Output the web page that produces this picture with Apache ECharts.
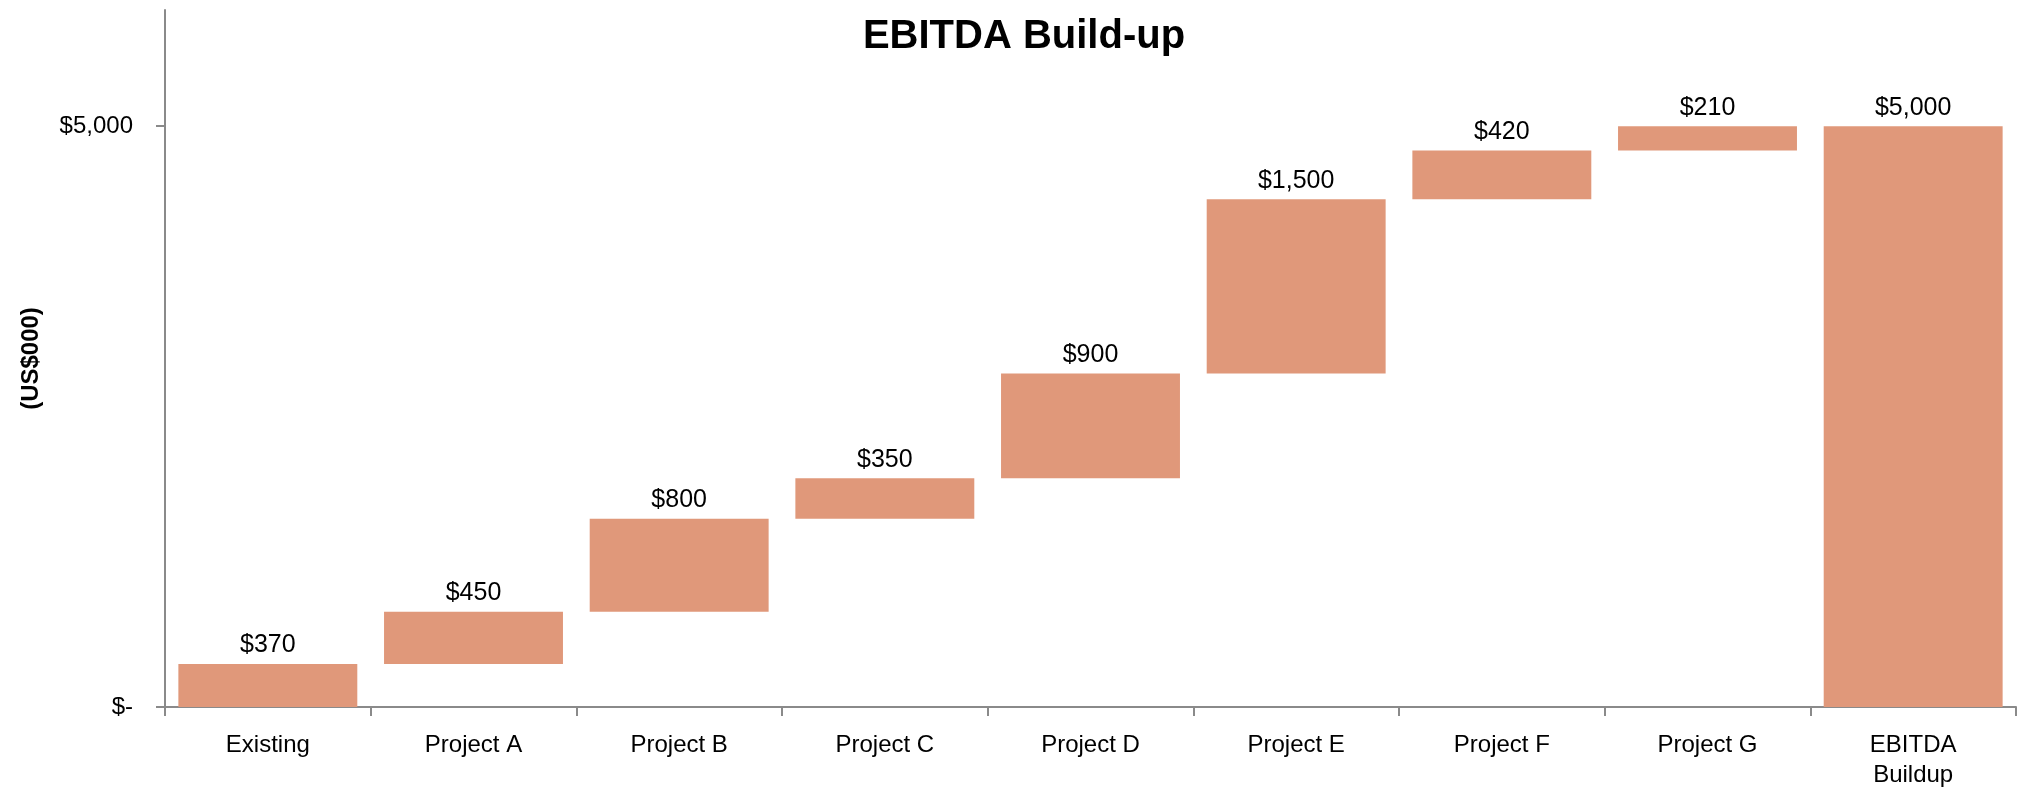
<!DOCTYPE html>
<html>
<head>
<meta charset="utf-8">
<title>EBITDA Build-up</title>
<script src="https://cdn.jsdelivr.net/npm/echarts@6/dist/echarts.min.js"></script>
<style>
  html, body { margin: 0; padding: 0; background: #fff; }
  #chart { width: 2026px; height: 788px; }
</style>
</head>
<body>
<div id="chart"></div>
<script>
// categories and values (US$000)
var categories = ['Existing', 'Project A', 'Project B', 'Project C', 'Project D',
                  'Project E', 'Project F', 'Project G', 'EBITDA\nBuildup'];
var increments = [370, 450, 800, 350, 900, 1500, 420, 210, 5000];
var yTickValues = [0, 5000];

// last column is the total, it starts from zero
var bases = [];
var running = 0;
for (var i = 0; i < increments.length; i++) {
    if (i == increments.length - 1) {
        bases.push(0);
    } else {
        bases.push(running);
        running += increments[i];
    }
}

function money(v) {
    if (v == 0) return '$-';
    return '$' + v.toLocaleString('en-US');
}

var font = 'Liberation Sans';
var axisGray = '#8a8a8a';

var chart = echarts.init(document.getElementById('chart'));
var option = {
    backgroundColor: '#fff',
    animation: false,
    textStyle: { fontFamily: font, color: '#000' },
    title: {
        text: 'EBITDA Build-up',
        left: 1019,
        textAlign: 'center',
        top: 12,
        textStyle: { fontFamily: font, fontSize: 40, fontWeight: 'bold', color: '#000' }
    },
    grid: { left: 165, right: 10, top: 10, bottom: 81, containLabel: false, outerBoundsMode: 'none' },
    xAxis: {
        type: 'category',
        data: categories,
        axisLine: { lineStyle: { color: axisGray, width: 2 } },
        axisTick: { show: true, length: 9, lineStyle: { color: axisGray, width: 2 } },
        axisLabel: {
            color: '#000', fontFamily: font, fontSize: 24,
            lineHeight: 30, margin: 23, interval: 0
        }
    },
    yAxis: {
        type: 'value',
        min: 0,
        max: 6000,
        interval: 5000,
        name: '(US$000)',
        nameLocation: 'middle',
        nameRotate: 90,
        nameGap: 122,
        nameTextStyle: { fontFamily: font, fontSize: 24, fontWeight: 'bold', color: '#000' },
        splitLine: { show: false },
        axisLine: { show: true, lineStyle: { color: axisGray, width: 2 } },
        axisTick: {
            show: true, length: 9, customValues: yTickValues,
            lineStyle: { color: axisGray, width: 2 }
        },
        axisLabel: {
            color: '#000', fontFamily: font, fontSize: 24, margin: 32,
            customValues: yTickValues,
            formatter: function (v) { return money(v); }
        }
    },
    series: [
        {
            name: 'base',
            type: 'bar',
            stack: 'wf',
            silent: true,
            barCategoryGap: '13%',
            itemStyle: { color: 'rgba(0,0,0,0)' },
            data: bases
        },
        {
            name: 'EBITDA',
            type: 'bar',
            stack: 'wf',
            barCategoryGap: '13%',
            itemStyle: { color: '#e0987a' },
            label: {
                show: true,
                position: 'top',
                distance: 6,
                color: '#000',
                fontFamily: font,
                fontSize: 25,
                formatter: function (p) { return money(p.value); }
            },
            data: increments
        }
    ]
};
chart.setOption(option);
</script>
</body>
</html>
